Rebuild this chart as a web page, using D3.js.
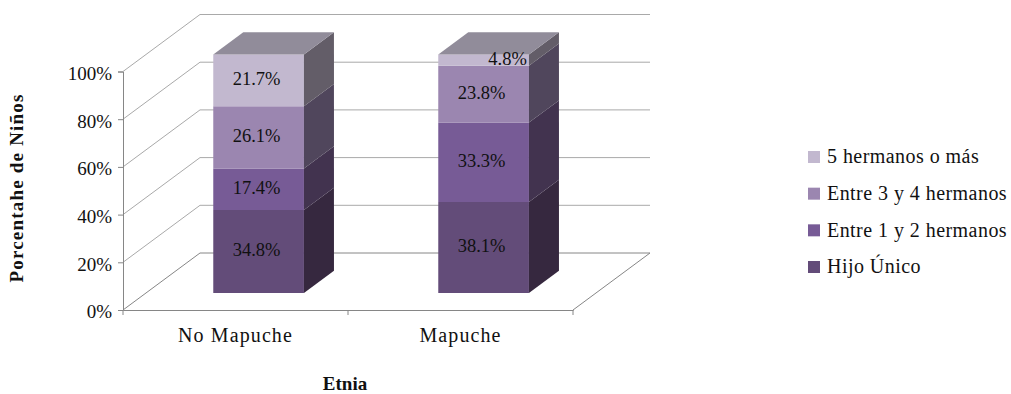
<!DOCTYPE html>
<html lang="es">
<head>
    <meta charset="UTF-8">
    <title>Porcentaje de niños por etnia</title>
    <script src="https://d3js.org/d3.v7.min.js"></script>
    <style>
        body { margin: 0; background: #fff; }
        svg { display: block; }
        text { font-family: "Liberation Serif", serif; fill: #111; }
        .tick-label { font-size: 19px; }
        .category-label { font-size: 20px; letter-spacing: 1.1px; }
        .value-label { font-size: 18.5px; }
        .legend-label { font-size: 20px; letter-spacing: 0.45px; }
        .axis-title { font-size: 19px; font-weight: bold; }
    </style>
</head>
<body>
<div id="chart"></div>
<script>
    // Chart data (percent of children)
    const categories = ["No Mapuche", "Mapuche"];
    const seriesNames = ["Hijo Único", "Entre 1 y 2 hermanos", "Entre 3 y 4 hermanos", "5 hermanos o más"];
    const noMapucheValues = [34.8, 17.4, 26.1, 21.7];
    const mapucheValues = [38.1, 33.3, 23.8, 4.8];
    const yTicks = [0, 20, 40, 60, 80, 100];

    // Face colours per series
    const frontColors = ["#634c79", "#775b96", "#9b86b0", "#c2b8cf"];
    const sideColors = ["#36283f", "#42334f", "#50465c", "#635d68"];
    const topColor = "#918c9a";

    const width = 1011, height = 394;

    const svg = d3.select("#chart").append("svg")
        .attr("width", width)
        .attr("height", height);

    const x = d3.scaleBand().domain(categories).range([123, 573]);
    const y = d3.scaleLinear().domain([0, 100]).range([310, 71.5]);

    // Oblique projection: depth 0 is the front of the floor, 1 the back wall
    const depthX = 77, depthY = 57;
    const project = (px, py, depth) => [px + depth * depthX, py - depth * depthY];
    const poly = pts => pts.map(p => p.join(",")).join(" ");

    const rows = categories.map((c, i) => {
        const vals = i === 0 ? noMapucheValues : mapucheValues;
        const row = { category: c };
        seriesNames.forEach((s, j) => { row[s] = vals[j]; });
        return row;
    });
    const stacked = d3.stack().keys(seriesNames)(rows);

    // Walls and floor
    const grid = svg.append("g")
        .attr("fill", "none")
        .attr("stroke", "#a9a9a9")
        .attr("stroke-width", 1);

    yTicks.forEach(t => {
        const front = [x.range()[0], y(t)];
        const back = project(front[0], front[1], 1);
        const backRight = project(x.range()[1], y(t), 1);
        grid.append("polyline")
            .attr("stroke", t === 0 ? "#868686" : "#a9a9a9")
            .attr("points", poly([front, back, backRight]));
    });
    grid.append("line")
        .attr("stroke", "#868686")
        .attr("x1", x.range()[1]).attr("y1", y(0))
        .attr("x2", project(x.range()[1], y(0), 1)[0])
        .attr("y2", project(x.range()[1], y(0), 1)[1]);

    // Axes
    const yAxis = svg.append("g")
        .attr("transform", `translate(${x.range()[0]},0)`)
        .call(d3.axisLeft(y).tickValues(yTicks).tickFormat(d => d + "%").tickSize(5).tickPadding(6));
    yAxis.selectAll("text").attr("class", "tick-label").attr("dy", "0.42em");

    const xAxis = svg.append("g")
        .attr("transform", `translate(0,${y(0)})`)
        .call(d3.axisBottom(x).tickSize(0).tickPadding(18));
    xAxis.selectAll("text").attr("class", "category-label");

    // Tick marks sit on the category boundaries
    xAxis.selectAll(".edge")
        .data([x.range()[0], x(categories[1]), x.range()[1]])
        .enter().append("line")
        .attr("class", "edge")
        .attr("x1", d => d).attr("x2", d => d)
        .attr("y1", 0).attr("y2", 5)
        .attr("stroke", "#868686");

    [yAxis, xAxis].forEach(a => {
        a.selectAll(".domain").attr("stroke", "#868686");
        a.selectAll(".tick line").attr("stroke", "#868686");
    });

    // Stacked 3D bars
    const barWidth = x.bandwidth() * 0.403;
    const barNear = 0.3, barFar = 0.69;

    const barLeft = c => x(c) + (x.bandwidth() - barWidth) / 2;

    stacked.forEach((layer, si) => {
        const g = svg.append("g");
        layer.forEach(d => {
            const c = d.data.category;
            const l = barLeft(c), r = l + barWidth;
            const y0 = y(d[0]), y1 = y(d[1]);
            g.append("polygon")
                .attr("fill", frontColors[si])
                .attr("points", poly([project(l, y0, barNear), project(r, y0, barNear), project(r, y1, barNear), project(l, y1, barNear)]));
            g.append("polygon")
                .attr("fill", sideColors[si])
                .attr("points", poly([project(r, y0, barNear), project(r, y0, barFar), project(r, y1, barFar), project(r, y1, barNear)]));
            if (si === stacked.length - 1) {
                g.append("polygon")
                    .attr("fill", topColor)
                    .attr("points", poly([project(l, y1, barNear), project(r, y1, barNear), project(r, y1, barFar), project(l, y1, barFar)]));
            }
        });
    });

    // Value labels, the thin top segment gets its label pushed right
    stacked.forEach(layer => {
        layer.forEach(d => {
            const c = d.data.category;
            const value = d[1] - d[0];
            const p = project(barLeft(c) + barWidth / 2, y((d[0] + d[1]) / 2), barNear);
            svg.append("text")
                .attr("class", "value-label")
                .attr("x", p[0] + (value < 10 ? 24 : -2))
                .attr("y", p[1] - 2)
                .attr("dy", "0.35em")
                .attr("text-anchor", "middle")
                .text(value.toFixed(1) + "%");
        });
    });

    // Legend, top row is the last series
    const legend = svg.append("g");
    const legendY = d3.scalePoint().domain(seriesNames.slice().reverse()).range([157, 267]);
    seriesNames.forEach((s, i) => {
        legend.append("rect")
            .attr("x", 808).attr("y", legendY(s) - 6)
            .attr("width", 12).attr("height", 12)
            .attr("fill", frontColors[i]);
        legend.append("text")
            .attr("class", "legend-label")
            .attr("x", 827).attr("y", legendY(s))
            .attr("dy", "0.32em")
            .text(s);
    });

    // Axis titles
    svg.append("text")
        .attr("class", "axis-title")
        .attr("transform", "translate(23,188) rotate(-90)")
        .attr("text-anchor", "middle")
        .attr("letter-spacing", "1.2")
        .text("Porcentahe de Niños");

    svg.append("text")
        .attr("class", "axis-title")
        .attr("x", 345).attr("y", 389.5)
        .attr("text-anchor", "middle")
        .text("Etnia");
</script>
</body>
</html>
